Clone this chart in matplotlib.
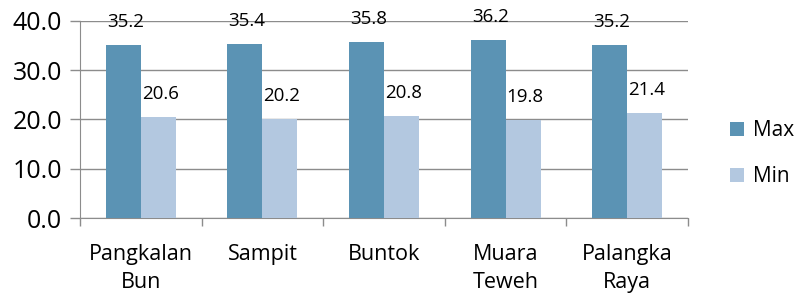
import matplotlib
matplotlib.use("Agg")
import matplotlib.pyplot as plt
import numpy as np

cities = ["Pangkalan\nBun", "Sampit", "Buntok", "Muara\nTeweh", "Palangka\nRaya"]
max_vals = [35.2, 35.4, 35.8, 36.2, 35.2]
min_vals = [20.6, 20.2, 20.8, 19.8, 21.4]

plt.rcParams['font.family'] = ['Open Sans', 'DejaVu Sans']

fig = plt.figure(figsize=(7.98, 3.0), dpi=100)
ax = fig.add_axes([80/798, 1-218/300, 608/798, 197/300])

x = np.arange(len(cities))
w = 0.288
b1 = ax.bar(x - w/2, max_vals, w, color='#5B93B4', label='Max', zorder=3)
b2 = ax.bar(x + w/2, min_vals, w, color='#B3C8E0', label='Min', zorder=3)

for bars, vals in ((b1, max_vals), (b2, min_vals)):
    for r, v in zip(bars, vals):
        ax.annotate('%.1f' % v, (r.get_x() + r.get_width()/2, v),
                    xytext=(2, 14), textcoords='offset pixels',
                    ha='center', va='bottom', fontsize=13.5, zorder=5,
                    annotation_clip=False)

ax.set_ylim(0, 40)
ax.set_xlim(-0.5, len(cities) - 0.5)
ax.set_yticks(np.arange(0, 41, 10))
ax.set_yticklabels(['%.1f' % t for t in np.arange(0, 41, 10)], fontsize=18)
ax.yaxis.grid(True, color='#8c8c8c', lw=1, zorder=0)

ax.set_xticks(x)
ax.set_xticklabels(cities, fontsize=15.5, linespacing=1.4)
ax.set_xticks(np.arange(-0.5, len(cities), 1), minor=True)
ax.tick_params(axis='x', which='major', length=0, pad=19)
ax.tick_params(axis='x', which='minor', length=6, color='#8c8c8c', width=1)
ax.tick_params(axis='y', length=7, color='#8c8c8c', width=1, pad=6)

for s in ('top', 'right'):
    ax.spines[s].set_visible(False)
for s in ('left', 'bottom'):
    ax.spines[s].set_color('#8c8c8c')

ax.legend(loc='center left', bbox_to_anchor=(1.056, 0.325), frameon=False,
          fontsize=15, handlelength=0.65, handleheight=0.65, labelspacing=1.2,
          handletextpad=0.45, borderaxespad=0)

fig.savefig('out.png', dpi=100)
